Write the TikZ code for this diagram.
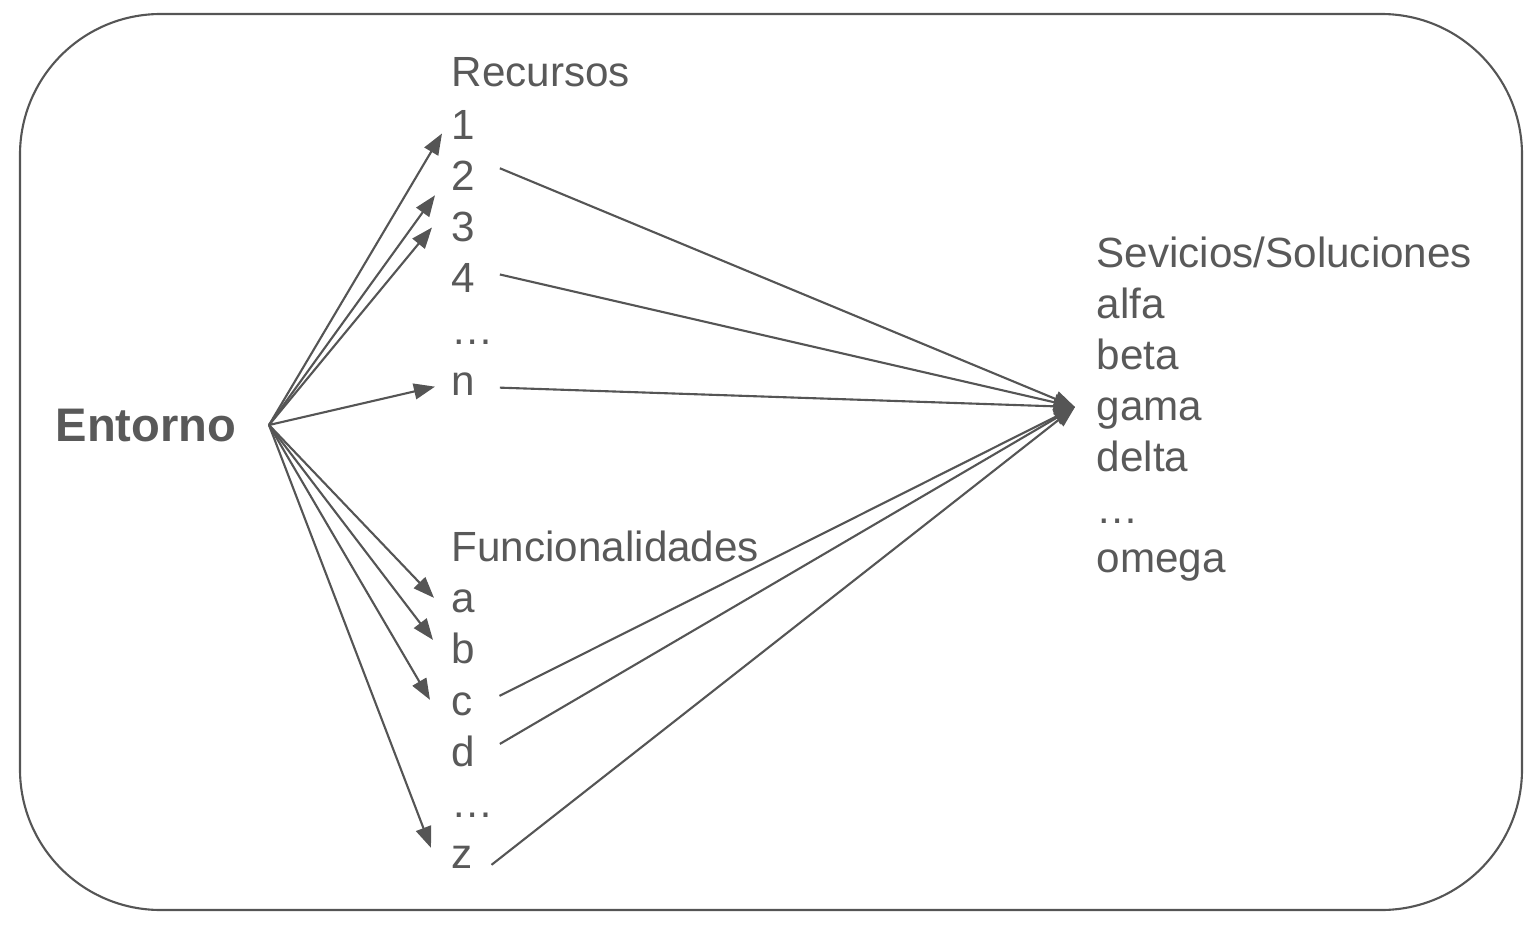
\documentclass[tikz,border=0pt]{standalone}
\usepackage{fontspec}
\setmainfont{Liberation Sans}
\usetikzlibrary{arrows.meta,calc}
\definecolor{textgray}{HTML}{595959}
\definecolor{linegray}{HTML}{555555}

\begin{document}
\begin{tikzpicture}[x=0.01cm,y=-0.01cm,
  item/.style={anchor=base west,inner sep=0pt,text=textgray,font=\fontsize{12}{14}\selectfont},
  link/.style={draw=linegray,line width=0.6pt,-{Triangle[length=6pt,width=4.5pt]}}]
  \useasboundingbox (0,0) rectangle (1536,924);
  \draw[linegray,line width=0.6pt,rounded corners=40pt] (20,14) rectangle (1522,910);

  % source
  \node[item,font=\bfseries\fontsize{13.4}{16}\selectfont] (env) at (55,441) {Entorno};
  \coordinate (src) at ($(env.east)+(32,0)$);

  % resources
  \node[item] (rtitle) at (451,87) {Recursos};
  \node[item] (r1) at (451,139) {1};
  \node[item] (r2) at (451,190) {2};
  \node[item] (r3) at (451,241) {3};
  \node[item] (r4) at (451,292) {4};
  \node[item] (rdots) at (451,344) {…};
  \node[item] (rn) at (451,395) {n};

  % functionalities
  \node[item] (ftitle) at (451,561) {Funcionalidades};
  \node[item] (fa) at (451,612) {a};
  \node[item] (fb) at (451,663) {b};
  \node[item] (fc) at (451,715) {c};
  \node[item] (fd) at (451,766) {d};
  \node[item] (fdots) at (451,817) {…};
  \node[item] (fz) at (451,868) {z};

  % services
  \node[item] (stitle) at (1096,267) {Sevicios/Soluciones};
  \node[item] (s1) at (1096,318) {alfa};
  \node[item] (s2) at (1096,369) {beta};
  \node[item] (s3) at (1096,420) {gama};
  \node[item] (s4) at (1096,471) {delta};
  \node[item] (sdots) at (1096,523) {…};
  \node[item] (s5) at (1096,572) {omega};
  \coordinate (tgt) at ($(s3.west)+(-21,-6)$);

  % environment to resources and functionalities
  \draw[link] (src) -- ($(r1.west)+(-9,9)$);
  \draw[link] (src) -- ($(r2.west)+(-16,20)$);
  \draw[link] (src) -- ($(r3.west)+(-19,1)$);
  \draw[link] (src) -- ($(rn.west)+(-16,3)$);
  \draw[link] (src) -- ($(fa.west)+(-17,-3)$);
  \draw[link] (src) -- ($(fb.west)+(-18,-8)$);
  \draw[link] (src) -- ($(fc.west)+(-21,-4)$);
  \draw[link] (src) -- ($(fz.west)+(-20,-9)$);

  % to services
  \draw[link] ($(r2.east)+(24,-7)$) -- (tgt);
  \draw[link] ($(r4.east)+(24,-3)$) -- (tgt);
  \draw[link] ($(rn.east)+(24,4)$) -- (tgt);
  \draw[link] ($(fc.east)+(26,-8)$) -- (tgt);
  \draw[link] ($(fd.east)+(24,-7)$) -- (tgt);
  \draw[link] ($(fz.east)+(18,8)$) -- (tgt);
\end{tikzpicture}
\end{document}
